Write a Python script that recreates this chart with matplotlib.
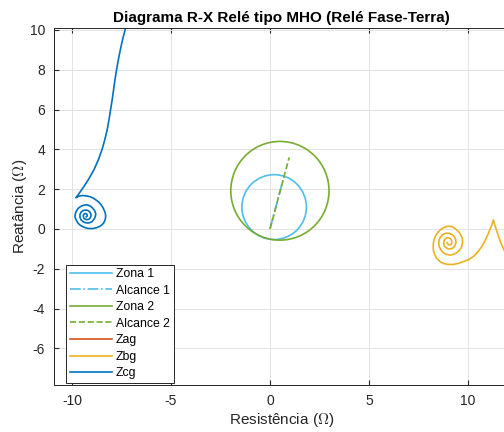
import matplotlib
matplotlib.use("Agg")
import matplotlib.pyplot as plt
from matplotlib.patches import Circle
from matplotlib.lines import Line2D

plt.rcParams["font.family"] = ["Liberation Sans", "DejaVu Sans"]
plt.rcParams["mathtext.fontset"] = "cm"
plt.rcParams["axes.unicode_minus"] = False

# MHO characteristics (center R, center X, radius) in ohms
zona1_centro = (0.21, 1.10)
zona1_raio = 1.63
zona2_centro = (0.50, 1.92)
zona2_raio = 2.48

# reach lines, from origin to the reach point
alcance1_r = [0.0, 0.72]
alcance1_x = [0.0, 2.70]
alcance2_r = [0.0, 0.97]
alcance2_x = [0.0, 3.60]

# fault impedance trajectories
zag_r = []
zag_x = []

zbg_r = [12.10, 11.82, 11.67, 11.55, 11.45, 11.36, 11.28,
         11.18, 11.03, 10.88, 10.69, 10.49, 10.27, 10.02, 9.76, 9.51,
         9.26, 9.00, 8.75, 8.56, 8.42, 8.31, 8.25, 8.24, 8.28, 8.37,
         8.50, 8.66, 8.84, 9.01, 9.18, 9.36, 9.51, 9.63, 9.71, 9.73,
         9.68, 9.58, 9.43, 9.26, 9.09, 8.91, 8.75, 8.63, 8.55, 8.52,
         8.55, 8.63, 8.75, 8.90, 9.06, 9.20, 9.31, 9.38, 9.39, 9.34,
         9.26, 9.14, 9.01, 8.89, 8.80, 8.77, 8.79, 8.86, 8.95, 9.05,
         9.14, 9.18, 9.18, 9.12, 9.04, 8.97, 8.95]
zbg_x = [-1.60, -1.05, -0.72, -0.40, -0.10, 0.18, 0.45,
         0.15, -0.22, -0.55, -0.89, -1.16, -1.39, -1.55, -1.64, -1.73,
         -1.78, -1.78, -1.73, -1.62, -1.47, -1.27, -1.06, -0.80, -0.55, -0.33,
         -0.14, 0.00, 0.10, 0.14, 0.12, 0.02, -0.12, -0.29, -0.47, -0.68,
         -0.89, -1.06, -1.19, -1.28, -1.31, -1.28, -1.19, -1.05, -0.89, -0.70,
         -0.52, -0.38, -0.27, -0.21, -0.22, -0.29, -0.39, -0.53, -0.69, -0.83,
         -0.94, -1.00, -1.00, -0.94, -0.85, -0.72, -0.59, -0.49, -0.44, -0.45,
         -0.52, -0.62, -0.72, -0.79, -0.80, -0.75, -0.69]

zcg_r = [-7.22, -7.32, -7.45, -7.56, -7.66, -7.75, -7.83, -7.90, -7.97, -8.05,
         -8.13, -8.22, -8.34, -8.48, -8.66, -8.88, -9.16, -9.42, -9.63, -9.80,
         -9.70, -9.60, -9.47, -9.34, -9.20, -9.06, -8.92, -8.79, -8.66, -8.55,
         -8.45, -8.38, -8.32, -8.30, -8.31, -8.35, -8.41, -8.50, -8.62, -8.75,
         -8.90, -9.06, -9.20, -9.34, -9.48, -9.60, -9.70, -9.76, -9.82, -9.85,
         -9.84, -9.81, -9.75, -9.68, -9.58, -9.48, -9.37, -9.26, -9.16, -9.06,
         -8.97, -8.89, -8.83, -8.80, -8.82, -8.86, -8.92, -8.99, -9.09, -9.19,
         -9.29, -9.39, -9.48, -9.55, -9.59, -9.60, -9.59, -9.55, -9.48, -9.39,
         -9.31, -9.23, -9.15, -9.09, -9.05, -9.04, -9.06, -9.11, -9.18, -9.26,
         -9.33, -9.39, -9.42, -9.43, -9.41, -9.36, -9.31, -9.26, -9.23, -9.23,
         -9.25, -9.28]
zcg_x = [10.60, 10.00, 9.50, 9.00, 8.50, 8.00, 7.50, 7.00, 6.50, 6.00,
         5.50, 5.00, 4.50, 4.00, 3.50, 3.00, 2.50, 2.10, 1.80, 1.57,
         1.63, 1.66, 1.68, 1.67, 1.65, 1.61, 1.55, 1.46, 1.36, 1.24,
         1.10, 0.95, 0.81, 0.67, 0.53, 0.40, 0.29, 0.20, 0.12, 0.07,
         0.03, 0.02, 0.03, 0.07, 0.13, 0.20, 0.30, 0.40, 0.51, 0.62,
         0.73, 0.84, 0.95, 1.04, 1.12, 1.17, 1.20, 1.21, 1.19, 1.14,
         1.06, 0.97, 0.86, 0.74, 0.64, 0.54, 0.45, 0.37, 0.32, 0.30,
         0.31, 0.34, 0.40, 0.47, 0.56, 0.65, 0.75, 0.84, 0.90, 0.94,
         0.95, 0.94, 0.90, 0.84, 0.76, 0.67, 0.59, 0.52, 0.48, 0.47,
         0.49, 0.53, 0.60, 0.67, 0.73, 0.77, 0.78, 0.75, 0.71, 0.67,
         0.63, 0.61]

x_ticks = [-10, -5, 0, 5, 10]
y_ticks = [-6, -4, -2, 0, 2, 4, 6, 8, 10]

c_z1 = "#4DBEEE"
c_z2 = "#77AC30"
c_ag = "#D95319"
c_bg = "#EDB120"
c_cg = "#0072BD"
lw = 1.2

fig = plt.figure(figsize=(5.04, 4.32), dpi=100)
ax = fig.add_axes([0.1071, 0.1088, 0.9028, 0.8264])

ax.add_patch(Circle(zona1_centro, zona1_raio, fill=False, color=c_z1, lw=lw))
ax.plot(alcance1_r, alcance1_x, color=c_z1, ls="-.", lw=lw)
ax.add_patch(Circle(zona2_centro, zona2_raio, fill=False, color=c_z2, lw=lw))
ax.plot(alcance2_r, alcance2_x, color=c_z2, ls="--", lw=lw)
ax.plot(zag_r, zag_x, color=c_ag, lw=lw)
ax.plot(zbg_r, zbg_x, color=c_bg, lw=lw)
ax.plot(zcg_r, zcg_x, color=c_cg, lw=lw)

ax.set_xlim(-10.91, 12.07)
ax.set_ylim(-7.84, 10.10)
ax.set_xticks(x_ticks)
ax.set_yticks(y_ticks)
ax.grid(True, color="#e3e3e3", lw=0.7)
ax.set_axisbelow(True)
ax.tick_params(direction="in", length=3.5, top=True, right=True,
               labelsize=10, colors="#262626", pad=6.5)
for s in ax.spines.values():
    s.set_color("#262626")
    s.set_linewidth(0.7)

ax.set_title("Diagrama R-X Relé tipo MHO (Relé Fase-Terra)",
             fontsize=11, fontweight="bold", pad=4)
ax.set_xlabel(r"Resistência ($\Omega$)", fontsize=11, color="#262626", labelpad=2)
ax.set_ylabel(r"Reatância ($\Omega$)", fontsize=11, color="#262626", labelpad=0.5)

handles = [
    Line2D([], [], color=c_z1, lw=lw),
    Line2D([], [], color=c_z1, lw=lw, ls="-."),
    Line2D([], [], color=c_z2, lw=lw),
    Line2D([], [], color=c_z2, lw=lw, ls="--"),
    Line2D([], [], color=c_ag, lw=lw),
    Line2D([], [], color=c_bg, lw=lw),
    Line2D([], [], color=c_cg, lw=lw),
]
labels = ["Zona 1", "Alcance 1", "Zona 2", "Alcance 2", "Zag", "Zbg", "Zcg"]
leg = ax.legend(handles, labels, loc="lower left",
                bbox_to_anchor=(12 / 455, 2 / 357), borderaxespad=0,
                fontsize=8.8, handlelength=3.5, handletextpad=0.3,
                labelspacing=0.37, fancybox=False, framealpha=1,
                edgecolor="#262626", borderpad=0.3)
leg.get_frame().set_linewidth(0.7)

fig.savefig("out.png", dpi=100)
